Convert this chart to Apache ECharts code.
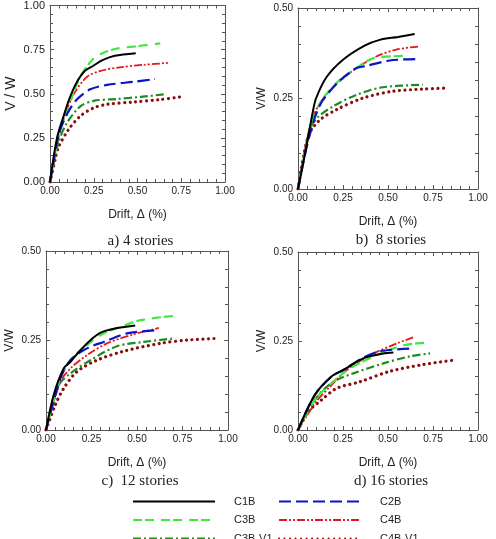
<!DOCTYPE html>
<html>
<head>
<meta charset="utf-8">
<script src="https://cdn.jsdelivr.net/npm/echarts@6/dist/echarts.min.js"></script>
<style>
  html, body { margin: 0; padding: 0; background: #fff; }
  #chart { width: 496px; height: 539px; }
</style>
</head>
<body>
<div id="chart"></div>
<script>
// series names and subplot titles
var names = ['C1B', 'C2B', 'C3B', 'C4B', 'C3B-V1', 'C4B-V1'];
var panelTitles = ['a) 4 stories', 'b)  8 stories', 'c)  12 stories', 'd) 16 stories'];
var yNames = ['V / W', 'V/W', 'V/W', 'V/W'];
var yMax = [1.0, 0.5, 0.5, 0.5];

// a) 4 stories  [drift %, V/W]
var a_C1B = [[0,0],[0.04,0.25],[0.08,0.38],[0.11,0.47],[0.15,0.56],[0.2,0.63],[0.25,0.66],[0.3,0.69],[0.37,0.715],[0.49,0.73]];
var a_C2B = [[0,0],[0.05,0.27],[0.1,0.39],[0.156,0.47],[0.23,0.525],[0.326,0.55],[0.48,0.568],[0.6,0.583]];
var a_C3B = [[0,0],[0.04,0.22],[0.08,0.36],[0.12,0.47],[0.175,0.6],[0.24,0.69],[0.3,0.73],[0.38,0.755],[0.5,0.77],[0.63,0.785]];
var a_C4B = [[0,0],[0.06,0.3],[0.1,0.42],[0.137,0.5],[0.21,0.595],[0.29,0.63],[0.4,0.65],[0.535,0.664],[0.68,0.675]];
var a_C3BV1 = [[0,0],[0.05,0.23],[0.1,0.34],[0.175,0.43],[0.25,0.46],[0.38,0.47],[0.516,0.482],[0.664,0.498]];
var a_C4BV1 = [[0,0],[0.03,0.13],[0.05,0.2],[0.108,0.3],[0.175,0.375],[0.25,0.42],[0.326,0.44],[0.478,0.453],[0.63,0.467],[0.744,0.482]];

// b) 8 stories
var b_C1B = [[0,0],[0.04,0.1],[0.083,0.215],[0.1,0.25],[0.157,0.308],[0.25,0.357],[0.37,0.396],[0.454,0.412],[0.555,0.42],[0.648,0.428]];
var b_C2B = [[0,0],[0.02,0.05],[0.06,0.14],[0.12,0.23],[0.213,0.29],[0.32,0.333],[0.37,0.339],[0.51,0.355],[0.654,0.359]];
var b_C3B = [[0,0],[0.06,0.15],[0.12,0.235],[0.213,0.293],[0.324,0.334],[0.4,0.358],[0.454,0.364],[0.59,0.368]];
var b_C4B = [[0,0],[0.065,0.17],[0.12,0.236],[0.213,0.29],[0.324,0.333],[0.435,0.366],[0.546,0.385],[0.676,0.394]];
var b_C3BV1 = [[0,0],[0.065,0.164],[0.11,0.198],[0.194,0.228],[0.324,0.26],[0.47,0.281],[0.694,0.288]];
var b_C4BV1 = [[0,0],[0.056,0.145],[0.12,0.19],[0.213,0.219],[0.36,0.251],[0.528,0.27],[0.694,0.276],[0.833,0.279]];

// c) 12 stories
var c_C1B = [[0,0],[0.042,0.098],[0.097,0.172],[0.134,0.19],[0.18,0.218],[0.244,0.251],[0.3,0.272],[0.372,0.283],[0.49,0.292]];
var c_C2B = [[0,0],[0.079,0.144],[0.134,0.195],[0.225,0.228],[0.317,0.246],[0.445,0.27],[0.61,0.279]];
var c_C3B = [[0,0],[0.079,0.144],[0.134,0.195],[0.225,0.237],[0.317,0.27],[0.41,0.288],[0.52,0.307],[0.71,0.319]];
var c_C4B = [[0,0],[0.079,0.135],[0.134,0.172],[0.225,0.209],[0.335,0.242],[0.48,0.267],[0.62,0.285]];
var c_C3BV1 = [[0,0],[0.07,0.125],[0.134,0.158],[0.244,0.195],[0.39,0.234],[0.537,0.246],[0.71,0.256]];
var c_C4BV1 = [[0,0],[0.051,0.07],[0.097,0.116],[0.17,0.163],[0.28,0.195],[0.427,0.22],[0.628,0.242],[0.775,0.251],[0.94,0.256]];

// d) 16 stories
var d_C1B = [[0,0],[0.093,0.098],[0.186,0.15],[0.25,0.168],[0.362,0.201],[0.474,0.215],[0.53,0.218]];
var d_C2B = [[0,0],[0.093,0.098],[0.186,0.15],[0.25,0.168],[0.362,0.203],[0.455,0.221],[0.623,0.229]];
var d_C3B = [[0,0],[0.1,0.089],[0.195,0.135],[0.288,0.173],[0.437,0.21],[0.585,0.238],[0.716,0.245]];
var d_C4B = [[0,0],[0.1,0.079],[0.177,0.121],[0.27,0.168],[0.4,0.21],[0.548,0.243],[0.65,0.262]];
var d_C3BV1 = [[0,0],[0.1,0.089],[0.195,0.135],[0.307,0.159],[0.474,0.187],[0.623,0.207],[0.734,0.215]];
var d_C4BV1 = [[0,0],[0.056,0.051],[0.13,0.084],[0.214,0.117],[0.344,0.1355],[0.511,0.165],[0.697,0.184],[0.864,0.196]];

var panels = [
  [a_C1B, a_C2B, a_C3B, a_C4B, a_C3BV1, a_C4BV1],
  [b_C1B, b_C2B, b_C3B, b_C4B, b_C3BV1, b_C4BV1],
  [c_C1B, c_C2B, c_C3B, c_C4B, c_C3BV1, c_C4BV1],
  [d_C1B, d_C2B, d_C3B, d_C4B, d_C3BV1, d_C4BV1]
];

// line looks, same order as names
var styles = [
  { color: '#000000', width: 2, type: 'solid' },
  { color: '#0a14c8', width: 2.2, type: [12, 5] },
  { color: '#3ee83e', width: 2.2, type: [9, 3, 9, 7] },
  { color: '#e8161a', width: 1.8, type: [8, 2, 2, 2, 2, 2] },
  { color: '#1e8a22', width: 2.2, type: [8, 3, 2, 3] },
  { color: '#8a0c0c', width: 3.2, type: [0.01, 5.5], cap: 'round' }
];

// plot boxes (px)
var boxes = [
  { left: 50, top: 5, width: 175, height: 177 },
  { left: 298, top: 8, width: 180, height: 181 },
  { left: 46, top: 251, width: 182, height: 179 },
  { left: 298, top: 252, width: 180, height: 178 }
];
var titleY = [229, 228, 469, 469];
var yLabelSize = [11, 10, 10, 10];
var yNameSize = [14, 12, 12, 12];

var frame = '#555';
var grids = [], xAxes = [], yAxes = [], series = [], titles = [];

function tickSet() {
  return {
    axisLine: { show: true, onZero: false, lineStyle: { color: frame, width: 1 } },
    axisTick: { show: true, inside: true, length: 4, lineStyle: { color: frame } },
    minorTick: { show: true, splitNumber: 5, length: 3, lineStyle: { color: frame } },
    splitLine: { show: false }
  };
}

for (var p = 0; p < 4; p++) {
  grids.push(boxes[p]);
  // bottom x
  xAxes.push(Object.assign({
    gridIndex: p, type: 'value', min: 0, max: 1, interval: 0.25, position: 'bottom',
    name: 'Drift, \u0394 (%)', nameLocation: 'middle', nameGap: 27,
    nameTextStyle: { fontFamily: 'Liberation Sans', fontSize: 12, color: '#222' },
    axisLabel: { fontFamily: 'Liberation Sans', fontSize: 10, color: '#222', margin: 4,
      formatter: function (v) { return v.toFixed(2); } }
  }, tickSet()));
  // top mirror
  xAxes.push(Object.assign({
    gridIndex: p, type: 'value', min: 0, max: 1, interval: 0.25, position: 'top',
    axisLabel: { show: false }
  }, tickSet()));
  // left y
  yAxes.push(Object.assign({
    gridIndex: p, type: 'value', min: 0, max: yMax[p], interval: 0.25, position: 'left',
    name: yNames[p], nameLocation: 'middle', nameGap: p === 0 ? 32 : 30, nameRotate: 90,
    nameTextStyle: { fontFamily: 'Liberation Sans', fontSize: yNameSize[p], color: '#222' },
    axisLabel: { fontFamily: 'Liberation Sans', fontSize: yLabelSize[p], color: '#222', margin: 5,
      formatter: function (v) { return v.toFixed(2); } }
  }, tickSet()));
  // right mirror
  yAxes.push(Object.assign({
    gridIndex: p, type: 'value', min: 0, max: yMax[p], interval: 0.25, position: 'right',
    axisLabel: { show: false }
  }, tickSet()));

  titles.push({
    text: panelTitles[p],
    left: boxes[p].left + boxes[p].width / 2 - 2, top: titleY[p], textAlign: 'center',
    textStyle: { fontFamily: 'Liberation Serif', fontSize: 15, fontWeight: 'normal', color: '#222' }
  });

  for (var k = 0; k < names.length; k++) {
    series.push({
      name: names[k], type: 'line', xAxisIndex: p * 2, yAxisIndex: p * 2,
      data: panels[p][k], smooth: 0.3, symbol: 'none', animation: false,
      lineStyle: styles[k],
      itemStyle: { color: 'rgba(0,0,0,0)', borderWidth: 0 },
      z: 10 - k
    });
  }
}

var legendText = { fontFamily: 'Liberation Sans', fontSize: 11, color: '#222', padding: [0, 0, 0, 14] };
var option = {
  backgroundColor: '#fff',
  animation: false,
  title: titles,
  grid: grids,
  xAxis: xAxes,
  yAxis: yAxes,
  legend: [
    { data: ['C1B', 'C3B', 'C3B-V1'], orient: 'vertical', left: 127, top: 491, height: 80,
      itemWidth: 82, itemHeight: 10, itemGap: 7.5, textStyle: legendText, selectedMode: false },
    { data: ['C2B', 'C4B', 'C4B-V1'], orient: 'vertical', left: 273, top: 491, height: 80,
      itemWidth: 82, itemHeight: 10, itemGap: 7.5, textStyle: legendText, selectedMode: false }
  ],
  series: series
};

var myChart = echarts.init(document.getElementById('chart'));
myChart.setOption(option);
</script>
</body>
</html>
